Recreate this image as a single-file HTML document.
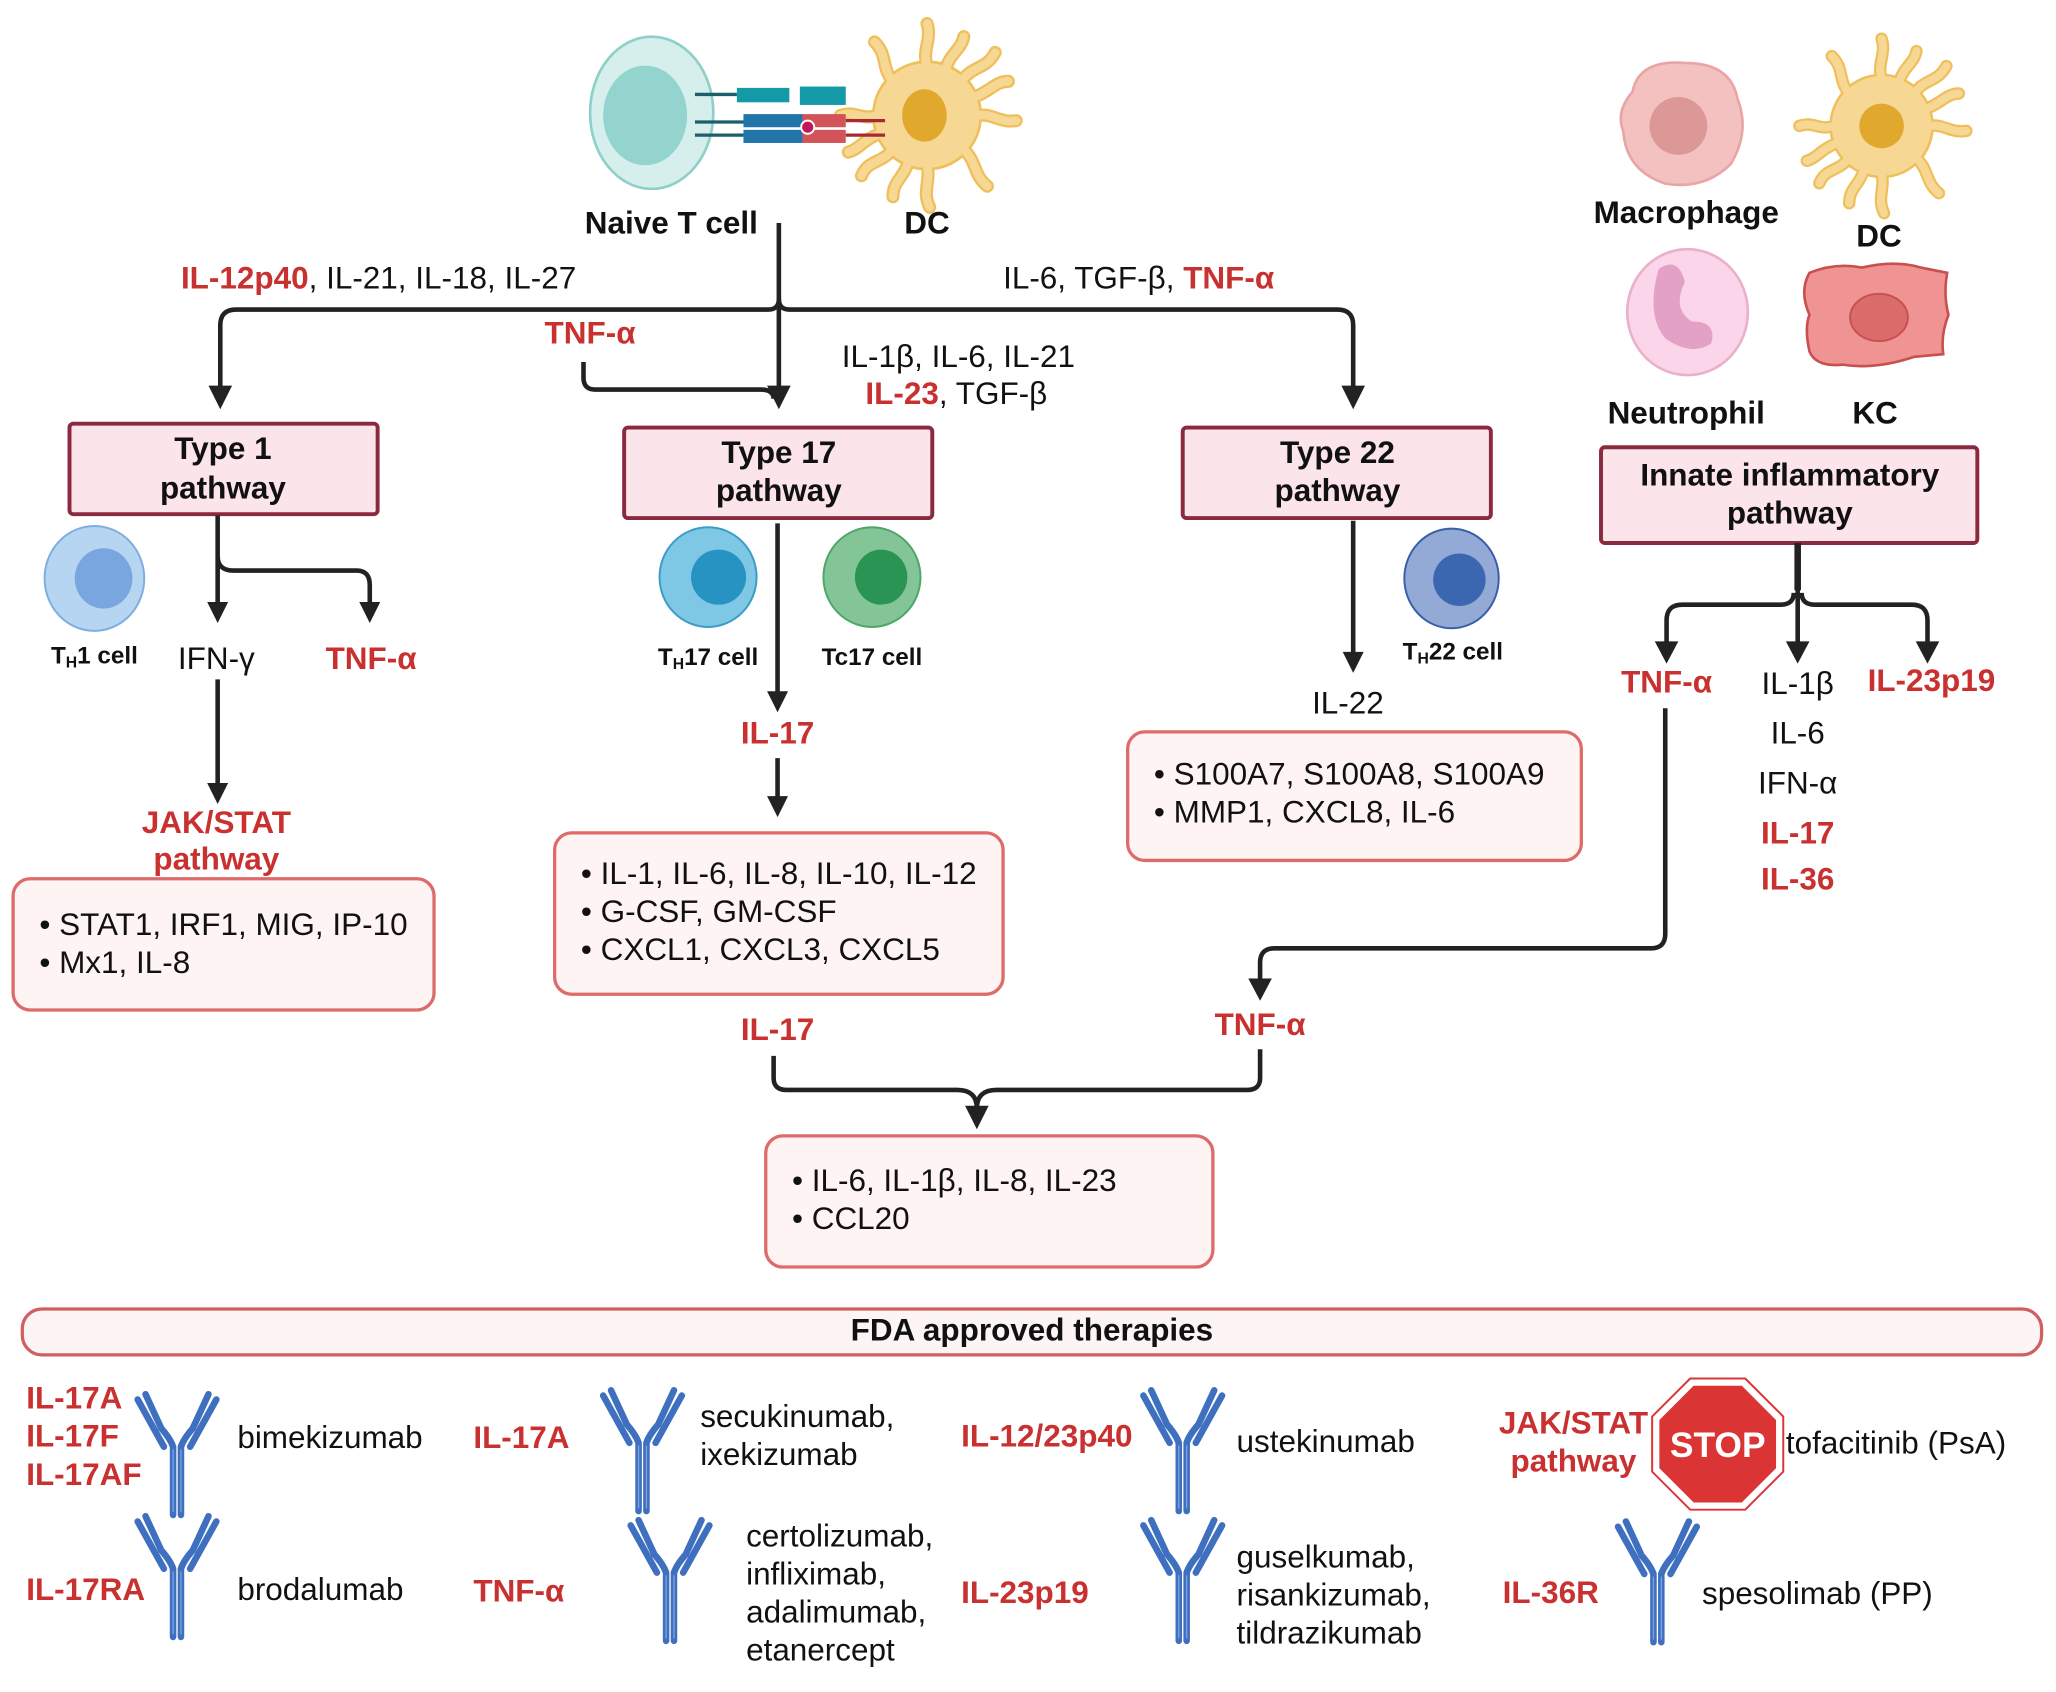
<!DOCTYPE html>
<html><head><meta charset="utf-8"><style>
html,body{margin:0;padding:0;background:#fff;}
svg{display:block}
text{font-family:"Liberation Sans",Arial,sans-serif;font-size:24px;fill:#111}
.b{font-weight:bold}
.r{fill:#c8312f;font-weight:bold}
.c{text-anchor:middle}
.ln{fill:none;stroke:#222;stroke-width:3.5;stroke-linejoin:round}
.pb{fill:#fbe4ea;stroke:#8b2a3e;stroke-width:3}
.tb{fill:#fdf4f3;stroke:#de6a6a;stroke-width:2.5}
.cl{font-size:18.5px;font-weight:bold}
.sp1{fill:none;stroke:#eebf5a;stroke-width:10;stroke-linecap:round}
.sp2{fill:none;stroke:#f7d794;stroke-width:6.5;stroke-linecap:round}
</style></head><body>
<svg width="2056" height="1692" viewBox="0 0 1568 1290" preserveAspectRatio="none" xmlns="http://www.w3.org/2000/svg">
<defs>
<g id="ab">
<path d="M-3,0 V-52 Q-5,-58 -12,-66 L-24,-92 M3,0 V-52 Q5,-58 12,-66 L24,-92 M-10,-52 L-30,-88 M10,-52 L30,-88" fill="none" stroke="#3f6fbf" stroke-width="5" stroke-linecap="round"/>
<path d="M-3,-2 V-50 M3,-2 V-50" fill="none" stroke="#7fa3dd" stroke-width="1"/>
</g>
<path id="dcs" d="M0,-38 C-4,-50 4,-58 0,-70 M27,-27 C35,-38 45,-35 52,-48 M38,0 C50,-2 55,6 68,4 M28,26 C38,35 35,45 46,54 M0,38 C3,50 -4,58 2,70 M-27,27 C-36,37 -45,34 -50,46 M-38,0 C-50,4 -55,-4 -66,0 M-27,-27 C-35,-38 -30,-46 -40,-56 M14,-35 C18,-48 26,-50 28,-60 M-14,35 C-18,48 -26,50 -26,62 M36,-14 C48,-18 52,-26 62,-26 M-36,14 C-48,18 -52,26 -60,28"/>
</defs>

<!-- Naive T cell -->
<ellipse cx="497" cy="86" rx="47" ry="58" fill="#d6efed" stroke="#8fcfc9" stroke-width="2"/>
<ellipse cx="492" cy="88" rx="32" ry="38" fill="#93d4cf"/>
<!-- DC top -->
<g transform="translate(707,88)">
<use href="#dcs" class="sp1"/><circle r="42" fill="#eebf5a"/><use href="#dcs" class="sp2"/><circle r="40" fill="#f7d794"/>
</g>
<ellipse cx="705" cy="88" rx="17" ry="20" fill="#e0a92e"/>
<!-- receptors -->
<path d="M530,72H562 M530,93H567 M530,103H567" stroke="#1b5f6a" stroke-width="2.5"/>
<rect x="562" y="67" width="40" height="11" fill="#149aa6"/><rect x="610" y="66" width="35" height="14" fill="#149aa6"/>
<rect x="567" y="87" width="45" height="10" fill="#2175a8"/><rect x="567" y="99" width="45" height="10" fill="#2175a8"/>
<rect x="612" y="87" width="33" height="10" fill="#d25458"/><rect x="612" y="99" width="33" height="10" fill="#d25458"/>
<circle cx="616" cy="97" r="5" fill="#c0185a" stroke="#fff" stroke-width="1.5"/>
<path d="M645,92H675 M645,103H675" stroke="#a82a30" stroke-width="2.5"/>
<text class="b c" x="512" y="178">Naive T cell</text>
<text class="b c" x="707" y="178">DC</text>

<!-- right cells -->
<path d="M1245,70 Q1250,45 1285,48 Q1320,48 1325,75 Q1335,100 1320,125 Q1300,145 1270,140 Q1240,130 1238,100 Q1232,85 1245,70z" fill="#f4c1c1" stroke="#e9a5a5" stroke-width="2"/>
<circle cx="1280" cy="96" r="22" fill="#dc9797"/>
<text class="b c" x="1286" y="170">Macrophage</text>
<g transform="translate(1435,96) scale(0.95)">
<use href="#dcs" class="sp1"/><circle r="42" fill="#eebf5a"/><use href="#dcs" class="sp2"/><circle r="40" fill="#f7d794"/>
</g>
<circle cx="1435" cy="96" r="17" fill="#e0a92e"/>
<text class="b c" x="1433" y="188">DC</text>
<ellipse cx="1287" cy="238" rx="46" ry="48" fill="#fbd6ea" stroke="#eab0cc" stroke-width="2"/>
<path d="M1265,205 Q1280,195 1285,215 Q1275,235 1290,245 Q1310,245 1305,262 Q1290,272 1270,258 Q1255,240 1265,205z" fill="#e3a1c5"/>
<text class="b c" x="1286" y="323">Neutrophil</text>
<path d="M1380,208 Q1400,200 1420,204 Q1445,198 1465,204 L1485,208 Q1482,225 1486,240 Q1480,255 1482,270 L1460,272 Q1430,282 1405,278 Q1385,280 1380,268 Q1376,250 1380,240 Q1372,222 1380,208z" fill="#f09393" stroke="#c8504f" stroke-width="2"/>
<ellipse cx="1433" cy="242" rx="22" ry="18" fill="#db6c6c" stroke="#c8504f" stroke-width="1.5"/>
<text class="b c" x="1430" y="323">KC</text>

<!-- top connectors -->
<text x="138" y="220"><tspan class="r">IL-12p40</tspan>, IL-21, IL-18, IL-27</text>
<text x="765" y="220">IL-6, TGF-β, <tspan class="r">TNF-α</tspan></text>
<path class="ln" d="M594,170 V228 Q594,236 586,236 H180 Q168,236 168,248 V296"/>
<path class="ln" d="M594,228 Q594,236 602,236 H1020 Q1032,236 1032,248 V296"/>
<path class="ln" d="M594,228 V296"/>
<path d="M159,294 L177,294 L168,312z M585,294 L603,294 L594,312z M1023,294 L1041,294 L1032,312z" fill="#222"/>
<text class="r c" x="450" y="262">TNF-α</text>
<path class="ln" d="M445,276 V288 Q445,297 454,297 H580 Q590,297 590,304"/>
<text x="642" y="280">IL-1β, IL-6, IL-21</text>
<text x="660" y="308"><tspan class="r">IL-23</tspan>, TGF-β</text>

<!-- pathway boxes -->
<rect class="pb" x="53" y="323" width="235" height="69" rx="3"/>
<text class="b c" x="170" y="350">Type 1</text><text class="b c" x="170" y="380">pathway</text>
<rect class="pb" x="476" y="326" width="235" height="69" rx="3"/>
<text class="b c" x="594" y="353">Type 17</text><text class="b c" x="594" y="382">pathway</text>
<rect class="pb" x="902" y="326" width="235" height="69" rx="3"/>
<text class="b c" x="1020" y="353">Type 22</text><text class="b c" x="1020" y="382">pathway</text>
<rect class="pb" x="1221" y="341" width="287" height="73" rx="3"/>
<text class="b c" x="1365" y="370">Innate inflammatory</text><text class="b c" x="1365" y="399">pathway</text>

<!-- Type 1 branch -->
<ellipse cx="72" cy="441" rx="38" ry="40" fill="#b5d5f0" stroke="#7eaee0" stroke-width="1.5"/>
<ellipse cx="79" cy="441" rx="22" ry="23" fill="#7aa6e0"/>
<text class="cl c" x="72" y="506">T<tspan font-size="12" dy="3">H</tspan><tspan dy="-3">1 cell</tspan></text>
<path class="ln" d="M166,393 V460 M166,424 Q166,435 178,435 H272 Q282,435 282,446 V460"/>
<path d="M158,459 L174,459 L166,475z M274,459 L290,459 L282,475z" fill="#222"/>
<text class="c" x="165" y="510">IFN-γ</text>
<text class="r c" x="283" y="510">TNF-α</text>
<path class="ln" d="M166,518 V598"/><path d="M158,597 L174,597 L166,613z" fill="#222"/>
<text class="r c" x="165" y="635">JAK/STAT</text><text class="r c" x="165" y="663">pathway</text>
<rect class="tb" x="10" y="670" width="321" height="100" rx="13"/>
<text x="30" y="713">• STAT1, IRF1, MIG, IP-10</text>
<text x="30" y="742">• Mx1, IL-8</text>

<!-- Type 17 branch -->
<ellipse cx="540" cy="440" rx="37" ry="38" fill="#7ec8e5" stroke="#3a9cc8" stroke-width="1.5"/>
<ellipse cx="548" cy="440" rx="21" ry="21" fill="#2793c2"/>
<ellipse cx="665" cy="440" rx="37" ry="38" fill="#83c597" stroke="#4da66a" stroke-width="1.5"/>
<ellipse cx="672" cy="440" rx="20" ry="21" fill="#2a9455"/>
<text class="cl c" x="540" y="507">T<tspan font-size="12" dy="3">H</tspan><tspan dy="-3">17 cell</tspan></text>
<text class="cl c" x="665" y="507">Tc17 cell</text>
<path class="ln" d="M593,399 V528"/><path d="M585,527 L601,527 L593,543z" fill="#222"/>
<text class="r c" x="593" y="567">IL-17</text>
<path class="ln" d="M593,578 V608"/><path d="M585,607 L601,607 L593,623z" fill="#222"/>
<rect class="tb" x="423" y="635" width="342" height="123" rx="13"/>
<text x="443" y="674">• IL-1, IL-6, IL-8, IL-10, IL-12</text>
<text x="443" y="703">• G-CSF, GM-CSF</text>
<text x="443" y="732">• CXCL1, CXCL3, CXCL5</text>
<text class="r c" x="593" y="793">IL-17</text>
<text class="r c" x="961" y="789">TNF-α</text>
<path class="ln" d="M590,805 V822 Q590,831 600,831 H730 Q745,831 745,845"/>
<path class="ln" d="M961,800 V822 Q961,831 951,831 H760 Q745,831 745,845"/>
<path d="M736,843 L754,843 L745,861z" fill="#222"/>
<rect class="tb" x="584" y="866" width="341" height="100" rx="13"/>
<text x="604" y="908">• IL-6, IL-1β, IL-8, IL-23</text>
<text x="604" y="937">• CCL20</text>

<!-- Type 22 branch -->
<path class="ln" d="M1032,397 V498"/><path d="M1024,497 L1040,497 L1032,513z" fill="#222"/>
<ellipse cx="1107" cy="441" rx="36" ry="38" fill="#93a9d6" stroke="#3b5ea8" stroke-width="1.5"/>
<circle cx="1113" cy="442" r="20" fill="#3b66b0"/>
<text class="cl c" x="1108" y="503">T<tspan font-size="12" dy="3">H</tspan><tspan dy="-3">22 cell</tspan></text>
<text class="c" x="1028" y="544">IL-22</text>
<rect class="tb" x="860" y="558" width="346" height="98" rx="13"/>
<text x="880" y="598">• S100A7, S100A8, S100A9</text>
<text x="880" y="627">• MMP1, CXCL8, IL-6</text>

<!-- Innate branch -->
<path class="ln" style="stroke-width:5" d="M1371,414 V450"/>
<path class="ln" d="M1371,448 V490 M1368,452 Q1368,461 1358,461 H1283 Q1271,461 1271,473 V490 M1374,452 Q1374,461 1384,461 H1458 Q1470,461 1470,473 V490"/>
<path d="M1262,489 L1280,489 L1271,506z M1362,489 L1380,489 L1371,506z M1461,489 L1479,489 L1470,506z" fill="#222"/>
<text class="r c" x="1271" y="528">TNF-α</text>
<text class="c" x="1371" y="529">IL-1β</text>
<text class="c" x="1371" y="567">IL-6</text>
<text class="c" x="1371" y="605">IFN-α</text>
<text class="r c" x="1371" y="643">IL-17</text>
<text class="r c" x="1371" y="678">IL-36</text>
<text class="r c" x="1473" y="527">IL-23p19</text>
<path class="ln" d="M1270,540 V712 Q1270,723 1259,723 H972 Q961,723 961,734 V748"/>
<path d="M952,746 L970,746 L961,763z" fill="#222"/>

<!-- FDA -->
<rect x="17" y="998" width="1540" height="35" rx="15" fill="#fdf5f5" stroke="#d06060" stroke-width="2.5"/>
<text class="b c" x="787" y="1022">FDA approved therapies</text>

<text class="r" x="20" y="1074">IL-17A</text>
<text class="r" x="20" y="1103">IL-17F</text>
<text class="r" x="20" y="1132">IL-17AF</text>
<use href="#ab" x="135" y="1155"/>
<text x="181" y="1104">bimekizumab</text>
<text class="r" x="361" y="1104">IL-17A</text>
<use href="#ab" x="490" y="1152"/>
<text x="534" y="1088">secukinumab,</text>
<text x="534" y="1117">ixekizumab</text>
<text class="r" x="733" y="1103">IL-12/23p40</text>
<use href="#ab" x="902" y="1152"/>
<text x="943" y="1107">ustekinumab</text>
<text class="r c" x="1200" y="1093">JAK/STAT</text>
<text class="r c" x="1200" y="1122">pathway</text>
<polygon points="1291,1055 1329,1055 1356,1082 1356,1120 1329,1147 1291,1147 1264,1120 1264,1082" fill="#db3434" stroke="#fff" stroke-width="3"/>
<polygon points="1289,1051 1331,1051 1360,1080 1360,1122 1331,1151 1289,1151 1260,1122 1260,1080" fill="none" stroke="#db3434" stroke-width="1.5"/>
<text class="b c" x="1310" y="1111" style="fill:#fff;font-size:27px">STOP</text>
<text x="1362" y="1108">tofacitinib (PsA)</text>

<text class="r" x="20" y="1220">IL-17RA</text>
<use href="#ab" x="135" y="1248"/>
<text x="181" y="1220">brodalumab</text>
<text class="r" x="361" y="1221">TNF-α</text>
<use href="#ab" x="511" y="1251"/>
<text x="569" y="1179">certolizumab,</text>
<text x="569" y="1208">infliximab,</text>
<text x="569" y="1237">adalimumab,</text>
<text x="569" y="1266">etanercept</text>
<text class="r" x="733" y="1222">IL-23p19</text>
<use href="#ab" x="902" y="1251"/>
<text x="943" y="1195">guselkumab,</text>
<text x="943" y="1224">risankizumab,</text>
<text x="943" y="1253">tildrazikumab</text>
<text class="r" x="1146" y="1222">IL-36R</text>
<use href="#ab" x="1264" y="1252"/>
<text x="1298" y="1223">spesolimab (PP)</text>
</svg>
</body></html>
